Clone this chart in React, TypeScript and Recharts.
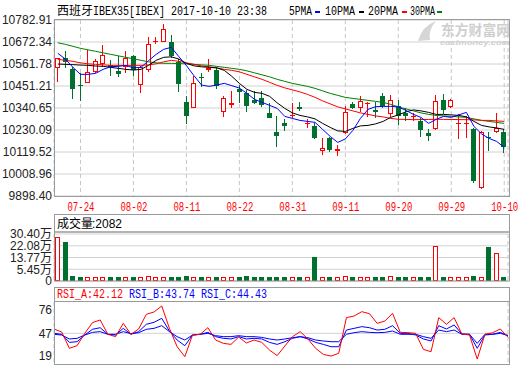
import React from 'react';
import {
  ComposedChart,
  Bar,
  Line,
  XAxis,
  YAxis,
  CartesianGrid,
  ReferenceLine,
} from 'recharts';

// trading days shown on the chart
const DATES = [
  '07-19', '07-20', '07-21', '07-24', '07-25', '07-26', '07-27', '07-28', '07-31', '08-01',
  '08-02', '08-03', '08-04', '08-07', '08-08', '08-09', '08-10', '08-11', '08-14', '08-15',
  '08-16', '08-17', '08-18', '08-21', '08-22', '08-23', '08-24', '08-25', '08-28', '08-29',
  '08-30', '08-31', '09-01', '09-04', '09-05', '09-06', '09-07', '09-08', '09-11', '09-12',
  '09-13', '09-14', '09-15', '09-18', '09-19', '09-20', '09-21', '09-22', '09-25', '09-26',
  '09-27', '09-28', '09-29', '10-02', '10-03', '10-04', '10-05', '10-06', '10-09', '10-10',
];
const TICK_DATES = ['07-24', '08-02', '08-11', '08-22', '08-31', '09-11', '09-20', '09-29', '10-10'];

const OPEN = [
  10543.4, 10593.6, 10536.7, 10456.0, 10468.0, 10523.3, 10560.1, 10556.8, 10528.3, 10545.0,
  10602.0, 10456.3, 10531.6, 10674.0, 10672.3, 10674.0, 10570.2, 10372.5, 10342.4, 10498.1,
  10531.6, 10531.6, 10322.3, 10355.8, 10436.2, 10417.7, 10380.9, 10392.7, 10317.2, 10221.8,
  10267.0, 10300.5, 10344.0, 10260.3, 10252.0, 10124.6, 10188.4, 10126.3, 10213.4, 10360.8,
  10342.4, 10360.8, 10330.6, 10401.0, 10310.5, 10350.8, 10317.2, 10293.8, 10275.4, 10213.4,
  10233.5, 10380.9, 10344.0, 10258.6, 10260.0, 10233.5, 9940.4, 10196.7, 10218.4, 10221.8,
];
const HIGH = [
  10594.0, 10627.1, 10545.0, 10514.9, 10632.1, 10585.2, 10658.9, 10581.9, 10602.0, 10628.8,
  10607.0, 10551.7, 10699.1, 10699.0, 10762.8, 10707.5, 10585.0, 10402.7, 10501.5, 10518.2,
  10585.2, 10545.0, 10402.7, 10427.8, 10456.2, 10431.0, 10427.8, 10427.8, 10367.5, 10300.5,
  10283.7, 10364.2, 10372.5, 10283.7, 10263.6, 10188.4, 10193.3, 10155.0, 10350.8, 10372.5,
  10401.0, 10372.5, 10372.5, 10417.7, 10405.9, 10380.9, 10339.0, 10314.0, 10288.8, 10233.5,
  10405.9, 10411.0, 10385.0, 10311.0, 10300.5, 10242.0, 10224.0, 10221.8, 10314.0, 10233.5,
];
const LOW = [
  10469.7, 10540.0, 10385.9, 10375.9, 10466.0, 10514.9, 10548.4, 10501.5, 10494.8, 10518.2,
  10501.5, 10417.7, 10523.3, 10662.0, 10670.0, 10590.0, 10419.4, 10258.6, 10340.0, 10444.5,
  10523.3, 10434.5, 10293.8, 10339.0, 10367.5, 10319.0, 10360.8, 10347.4, 10290.0, 10143.0,
  10225.0, 10288.8, 10325.6, 10238.5, 10183.4, 10104.5, 10118.0, 10099.5, 10210.0, 10335.0,
  10322.3, 10293.8, 10288.8, 10339.0, 10297.0, 10255.3, 10277.0, 10277.0, 10196.7, 10176.6,
  10230.0, 10309.0, 10340.0, 10186.0, 10188.4, 9962.0, 9932.0, 10126.3, 10216.0, 10116.2,
];
const CLOSE = [
  10590.3, 10570.2, 10436.2, 10449.0, 10523.3, 10576.9, 10605.3, 10545.0, 10511.5, 10590.3,
  10531.6, 10548.4, 10662.3, 10679.0, 10736.0, 10602.0, 10459.6, 10300.5, 10468.0, 10489.8,
  10543.4, 10451.2, 10392.7, 10367.5, 10419.4, 10350.8, 10364.2, 10355.8, 10292.1, 10201.7,
  10252.0, 10305.5, 10334.0, 10267.0, 10188.4, 10138.0, 10129.7, 10134.6, 10322.3, 10339.0,
  10375.9, 10367.5, 10322.3, 10350.8, 10380.9, 10300.5, 10300.5, 10302.2, 10230.1, 10200.0,
  10377.5, 10330.6, 10379.2, 10263.6, 10267.0, 9975.5, 10221.8, 10188.4, 10241.9, 10143.0,
];

const MA5 = [
  10615.4, 10586.7, 10545.0, 10509.7, 10509.7, 10514.8, 10534.9, 10548.5, 10550.0, 10555.0,
  10542.4, 10545.0, 10578.7, 10610.3, 10635.5, 10645.6, 10598.8, 10553.5, 10503.2, 10455.9,
  10449.4, 10455.9, 10464.5, 10452.9, 10440.8, 10414.2, 10384.0, 10368.9, 10353.8, 10338.7,
  10298.5, 10288.4, 10278.4, 10273.3, 10268.3, 10233.1, 10197.9, 10167.7, 10185.3, 10228.1,
  10288.4, 10333.7, 10347.3, 10348.8, 10348.8, 10346.3, 10328.7, 10308.5, 10293.5, 10263.3,
  10283.4, 10298.5, 10293.5, 10306.0, 10318.6, 10248.2, 10210.5, 10187.8, 10172.7, 10142.6,
];
const MA10 = [
  10561.6, 10560.0, 10558.5, 10556.5, 10555.0, 10551.5, 10550.0, 10545.0, 10540.0, 10534.9,
  10531.4, 10534.9, 10555.0, 10580.2, 10595.3, 10597.8, 10586.7, 10565.1, 10552.5, 10547.5,
  10545.0, 10542.4, 10529.9, 10499.7, 10464.5, 10434.3, 10419.2, 10414.2, 10399.1, 10366.4,
  10338.7, 10316.1, 10303.5, 10296.0, 10285.9, 10263.3, 10243.2, 10225.6, 10223.0, 10238.1,
  10250.7, 10253.2, 10260.8, 10273.3, 10293.5, 10306.0, 10321.1, 10331.2, 10326.2, 10318.6,
  10308.5, 10308.5, 10306.0, 10303.5, 10296.0, 10273.3, 10253.2, 10245.7, 10240.6, 10233.1,
];
const MA20 = [
  10585.2, 10580.2, 10575.1, 10567.6, 10562.6, 10560.0, 10557.5, 10555.0, 10555.0, 10555.0,
  10555.0, 10555.0, 10557.5, 10562.6, 10572.6, 10580.2, 10575.1, 10567.6, 10560.0, 10552.5,
  10547.5, 10542.4, 10534.9, 10529.9, 10522.3, 10509.7, 10497.2, 10484.6, 10469.5, 10454.4,
  10441.8, 10431.8, 10421.7, 10409.1, 10394.1, 10376.5, 10361.4, 10346.3, 10336.2, 10326.2,
  10316.1, 10308.5, 10301.0, 10296.0, 10288.4, 10284.0, 10283.4, 10282.0, 10282.5, 10283.0,
  10284.0, 10283.4, 10283.0, 10282.4, 10282.0, 10280.9, 10278.4, 10278.4, 10275.9, 10273.3,
];
const MA30 = [
  10668.2, 10660.6, 10650.6, 10640.5, 10633.0, 10625.4, 10617.9, 10610.3, 10602.8, 10595.3,
  10587.7, 10580.2, 10572.6, 10567.6, 10565.1, 10565.1, 10563.6, 10562.6, 10560.0, 10557.5,
  10555.0, 10550.0, 10545.0, 10539.9, 10534.9, 10527.4, 10517.3, 10507.2, 10497.2, 10484.6,
  10474.5, 10464.5, 10456.9, 10449.4, 10439.3, 10426.8, 10414.2, 10404.1, 10394.1, 10389.0,
  10384.0, 10379.0, 10373.9, 10368.9, 10358.8, 10346.3, 10336.2, 10326.2, 10316.1, 10308.5,
  10303.5, 10301.0, 10298.5, 10296.0, 10293.5, 10285.9, 10278.4, 10273.3, 10268.3, 10263.3,
];

// volume in 万
const VOLUME = [
  28.5, 24.9, 0.32, 0.28, 0.3, 0.26, 0.29, 0.31, 0.27, 0.25,
  0.3, 0.28, 0.33, 0.24, 0.27, 0.31, 0.29, 0.34, 0.3, 0.26,
  0.28, 0.31, 0.27, 0.25, 0.29, 0.32, 0.3, 0.28, 0.27, 0.31,
  0.29, 0.26, 0.3, 0.24, 14.2, 0.27, 0.31, 0.25, 0.33, 0.28,
  0.29, 0.26, 0.3, 0.27, 0.32, 0.29, 0.28, 0.25, 0.31, 0.3,
  22.0, 0.29, 0.27, 0.26, 0.28, 0.33, 0.3, 20.9, 17.3, 0.2082,
];

const RSI_A = [
  52.4, 48.7, 28.4, 31.7, 47.0, 60.3, 63.6, 45.8, 42.9, 59.4,
  45.8, 52.4, 70.6, 73.5, 81.0, 53.2, 30.4, 18.0, 44.9, 45.8,
  54.0, 38.7, 34.6, 33.3, 42.4, 35.0, 38.7, 35.8, 26.3, 19.3,
  31.3, 42.9, 49.1, 40.0, 28.4, 20.9, 18.8, 22.2, 66.5, 68.5,
  73.9, 71.4, 59.4, 62.3, 71.8, 48.2, 47.8, 47.0, 27.1, 24.2,
  66.5, 58.2, 66.5, 46.2, 44.9, 15.1, 45.8, 47.8, 52.4, 42.12,
];
const RSI_B = [
  47.0, 45.8, 35.8, 36.6, 44.9, 52.0, 54.0, 45.8, 44.9, 53.2,
  45.8, 49.1, 58.2, 60.7, 65.6, 49.9, 38.7, 31.7, 44.9, 45.8,
  48.2, 42.9, 40.8, 40.0, 42.9, 40.0, 40.8, 40.0, 35.8, 33.3,
  36.6, 40.8, 42.9, 40.0, 35.8, 33.3, 30.4, 30.4, 51.1, 53.2,
  55.3, 54.0, 51.1, 52.0, 56.5, 47.0, 47.0, 44.9, 40.0, 37.5,
  56.5, 52.4, 57.4, 46.2, 45.8, 28.4, 44.9, 45.8, 48.2, 43.74,
];
const RSI_C = [
  45.8, 44.9, 40.0, 40.8, 44.9, 48.2, 49.1, 45.8, 45.8, 49.1,
  46.6, 47.8, 52.0, 53.2, 56.5, 49.1, 42.9, 38.7, 44.9, 45.8,
  47.0, 44.1, 42.9, 42.9, 44.1, 42.9, 42.9, 42.0, 40.0, 38.7,
  40.0, 41.6, 42.9, 41.6, 38.7, 37.5, 36.6, 36.6, 45.8, 47.8,
  49.1, 48.2, 47.8, 48.2, 49.9, 45.8, 45.8, 45.8, 42.9, 40.8,
  51.1, 49.1, 51.1, 45.8, 45.8, 34.6, 45.8, 45.8, 47.0, 44.43,
];

const PRICE_TICKS = [
  9898.4, 10008.96, 10119.52, 10230.09, 10340.65, 10451.21, 10561.78, 10672.34, 10782.91,
];
const VOL_TICKS = [-2.87, 5.45, 13.77, 22.08, 30.4];
const RSI_TICKS = [19, 47, 76];

const UP = '#ff0000';
const DOWN = '#00702f';
const GRID = '#d2d2d2';
const FRAME = '#9a9a9a';
const SANS = "'Liberation Sans', Arial, 'Noto Sans CJK SC', sans-serif";
const MONO = "'Liberation Mono', 'DejaVu Sans Mono', monospace";
const CJK = "'Noto Sans CJK SC', sans-serif";

const rows = DATES.map((date, i) => ({
  date,
  open: OPEN[i],
  high: HIGH[i],
  low: LOW[i],
  close: CLOSE[i],
  ma5: MA5[i],
  ma10: MA10[i],
  ma20: MA20[i],
  ma30: MA30[i],
  vol: VOLUME[i],
  rsiA: RSI_A[i],
  rsiB: RSI_B[i],
  rsiC: RSI_C[i],
}));

const Candle = (props: any) => {
  const { x, y, width, height, payload } = props;
  if (!payload || x == null || y == null) return null;
  const y0 = Math.min(y, y + height);
  const y1 = Math.max(y, y + height);
  const k = (y1 - y0) / (payload.high - payload.low || 1);
  const toY = (v: number) => y0 + (payload.high - v) * k;
  const up = payload.close >= payload.open;
  const color = up ? UP : DOWN;
  const left = Math.round(x + (width - 5) / 2);
  const mid = left + 2.5;
  const hi = Math.round(toY(payload.high));
  const lo = Math.round(toY(payload.low));
  const top = Math.round(toY(Math.max(payload.open, payload.close)));
  let bot = Math.round(toY(Math.min(payload.open, payload.close)));
  if (bot - top < 1) bot = top + 1;
  if (up && bot - top > 2) {
    return (
      <g>
        <line x1={mid} x2={mid} y1={hi} y2={top} stroke={color} />
        <line x1={mid} x2={mid} y1={bot} y2={lo} stroke={color} />
        <rect x={left + 0.5} y={top + 0.5} width={4} height={bot - top - 1} fill="#fff" stroke={color} />
      </g>
    );
  }
  return (
    <g>
      <line x1={mid} x2={mid} y1={hi} y2={lo} stroke={color} />
      <rect x={left} y={top} width={5} height={bot - top} fill={color} />
    </g>
  );
};

const VolumeBar = (props: any) => {
  const { x, y, width, height, payload } = props;
  if (!payload || x == null || y == null) return null;
  const y0 = Math.round(Math.min(y, y + height));
  const y1 = Math.round(Math.max(y, y + height));
  const left = Math.round(x + (width - 5) / 2);
  if (payload.close >= payload.open) {
    return <rect x={left + 0.5} y={y0 + 0.5} width={4} height={Math.max(y1 - y0 - 1, 1)} fill="#fff" stroke={UP} />;
  }
  return <rect x={left} y={y0} width={5} height={y1 - y0} fill={DOWN} />;
};

const DateTick = (props: any) => {
  const { x, y, payload } = props;
  return (
    <text
      x={x + 0.5}
      y={y + 15}
      textAnchor="middle"
      fill="#ff0000"
      fontSize={12}
      fontFamily={MONO}
      textLength={27}
      lengthAdjust="spacingAndGlyphs"
    >
      {payload.value}
    </text>
  );
};

const yTick = { fontSize: 12, fill: '#222', fontFamily: SANS };
const MARGIN_R = 12;

export default function App() {
  return (
    <div style={{ position: 'absolute', left: 0, top: 0, width: 520, height: 365, background: '#fff', overflow: 'hidden' }}>
      {/* price panel */}
      <div style={{ position: 'absolute', left: 0, top: 0 }}>
        <ComposedChart width={520} height={215} data={rows} margin={{ top: 20, right: MARGIN_R, bottom: 0, left: 0 }}>
          <CartesianGrid vertical={false} stroke={GRID} />
          <CartesianGrid horizontal={false} stroke="#c6c6c6" strokeDasharray="4 3" />
          <XAxis
            dataKey="date"
            ticks={TICK_DATES}
            interval={0}
            height={19}
            tickSize={0}
            tickMargin={0}
            axisLine={false}
            tickLine={false}
            tick={<DateTick />}
          />
          <YAxis
            width={54}
            domain={[PRICE_TICKS[0], PRICE_TICKS[PRICE_TICKS.length - 1]]}
            ticks={PRICE_TICKS}
            interval={0}
            tickFormatter={(v: number) => v.toFixed(2)}
            tick={yTick}
            tickSize={0}
            tickMargin={2}
            axisLine={false}
            tickLine={false}
          />
          <Bar dataKey={(d: any) => [d.low, d.high]} barSize={5} shape={<Candle />} isAnimationActive={false} />
          <Line dataKey="ma30" stroke="#008000" strokeWidth={1} dot={false} isAnimationActive={false} />
          <Line dataKey="ma20" stroke="#ff0000" strokeWidth={1} dot={false} isAnimationActive={false} />
          <Line dataKey="ma10" stroke="#000000" strokeWidth={1} dot={false} isAnimationActive={false} />
          <Line dataKey="ma5" stroke="#0000ff" strokeWidth={1} dot={false} isAnimationActive={false} />
        </ComposedChart>
      </div>

      {/* volume panel: extra margins keep the outer tick labels from being clipped */}
      <div style={{ position: 'absolute', left: 0, top: 222 }}>
        <ComposedChart width={520} height={69} data={rows} margin={{ top: 12, right: MARGIN_R, bottom: 10, left: 0 }}>
          <CartesianGrid vertical={false} stroke={GRID} />
          <CartesianGrid horizontal={false} stroke="#c6c6c6" strokeDasharray="4 3" />
          <XAxis dataKey="date" ticks={TICK_DATES} interval={0} height={0} tick={false} axisLine={false} tickLine={false} />
          <YAxis
            width={54}
            domain={[VOL_TICKS[0], VOL_TICKS[VOL_TICKS.length - 1]]}
            ticks={VOL_TICKS}
            interval={0}
            tickFormatter={(v: number) => (v <= 0 ? '0' : `${v.toFixed(2)}万`)}
            tick={yTick}
            tickSize={0}
            tickMargin={2}
            axisLine={false}
            tickLine={false}
          />
          <Bar dataKey={(d: any) => [VOL_TICKS[0], d.vol]} barSize={5} shape={<VolumeBar />} isAnimationActive={false} />
        </ComposedChart>
      </div>

      {/* RSI panel */}
      <div style={{ position: 'absolute', left: 0, top: 301 }}>
        <ComposedChart width={520} height={64} data={rows} margin={{ top: 1, right: MARGIN_R, bottom: 0, left: 0 }}>
          <CartesianGrid horizontal={false} stroke="#c6c6c6" strokeDasharray="4 3" />
          <ReferenceLine y={47} stroke={GRID} />
          <XAxis dataKey="date" ticks={TICK_DATES} interval={0} height={0} tick={false} axisLine={false} tickLine={false} />
          <YAxis
            width={54}
            domain={[7.7, 85.9]}
            ticks={RSI_TICKS}
            interval={0}
            tick={yTick}
            tickSize={0}
            tickMargin={2}
            axisLine={false}
            tickLine={false}
          />
          <Line dataKey="rsiC" stroke="#0000ff" strokeWidth={1} dot={false} isAnimationActive={false} />
          <Line dataKey="rsiB" stroke="#0000ff" strokeWidth={1} dot={false} isAnimationActive={false} />
          <Line dataKey="rsiA" stroke="#ff0000" strokeWidth={1} dot={false} isAnimationActive={false} />
        </ComposedChart>
      </div>

      {/* frames, titles, legend */}
      <svg width={520} height={365} style={{ position: 'absolute', left: 0, top: 0, pointerEvents: 'none' }}>
        <text x={441} y={35} fontSize={14} fontWeight="bold" fill="#cfcfcf" fontFamily={CJK} textLength={69} lengthAdjust="spacingAndGlyphs">东方财富网</text>
        <text x={440} y={45} fontSize={7.5} fontWeight="bold" fontStyle="italic" fill="#cfcfcf" fontFamily={SANS} textLength={70} lengthAdjust="spacingAndGlyphs">eastmoney.com</text>
        <path d="M418 41 Q422 26 436 21 Q428 30 430 40 Z" fill="#d6d6d6" />

        <rect x={54.5} y={19.5} width={455} height={177} fill="none" stroke={FRAME} />
        <rect x={54.5} y={214.5} width={455} height={17.5} fill="none" stroke={FRAME} />
        <rect x={54.5} y={232} width={455} height={49} fill="none" stroke={FRAME} />
        <rect x={54.5} y={287.5} width={455} height={14} fill="none" stroke={FRAME} />
        <rect x={54.5} y={301.5} width={455} height={63} fill="none" stroke={FRAME} />

        <text x={57} y={15} fontSize={12} fill="#000" fontFamily={CJK}>西班牙</text>
        <text x={93} y={15} fontSize={12} fill="#000" fontFamily={MONO} textLength={174} lengthAdjust="spacingAndGlyphs">
          IBEX35[IBEX] 2017-10-10 23:38
        </text>

        <text x={289} y={15} fontSize={12} fill="#000" fontFamily={MONO} textLength={23} lengthAdjust="spacingAndGlyphs">5PMA</text>
        <rect x={315} y={11} width={5} height={2} fill="#0000ff" />
        <text x={325} y={15} fontSize={12} fill="#000" fontFamily={MONO} textLength={30} lengthAdjust="spacingAndGlyphs">10PMA</text>
        <rect x={359} y={11} width={5} height={2} fill="#000000" />
        <text x={368} y={15} fontSize={12} fill="#000" fontFamily={MONO} textLength={30} lengthAdjust="spacingAndGlyphs">20PMA</text>
        <rect x={402} y={11} width={5} height={2} fill="#ff0000" />
        <text x={410} y={15} fontSize={12} fill="#000" fontFamily={MONO} textLength={25} lengthAdjust="spacingAndGlyphs">30PMA</text>
        <rect x={437} y={11} width={5} height={2} fill="#008000" />

        <text x={57} y={228} fontSize={12} fill="#000" fontFamily={CJK}>成交量</text>
        <text x={92} y={228} fontSize={12} fill="#000" fontFamily={SANS}>:2082</text>

        <text x={57} y={298} fontSize={12} fill="#ff0000" fontFamily={MONO} textLength={66} lengthAdjust="spacingAndGlyphs">RSI_A:42.12</text>
        <text x={129} y={298} fontSize={12} fill="#0000ff" fontFamily={MONO} textLength={66} lengthAdjust="spacingAndGlyphs">RSI_B:43.74</text>
        <text x={201} y={298} fontSize={12} fill="#0000ff" fontFamily={MONO} textLength={66} lengthAdjust="spacingAndGlyphs">RSI_C:44.43</text>
      </svg>
    </div>
  );
}
